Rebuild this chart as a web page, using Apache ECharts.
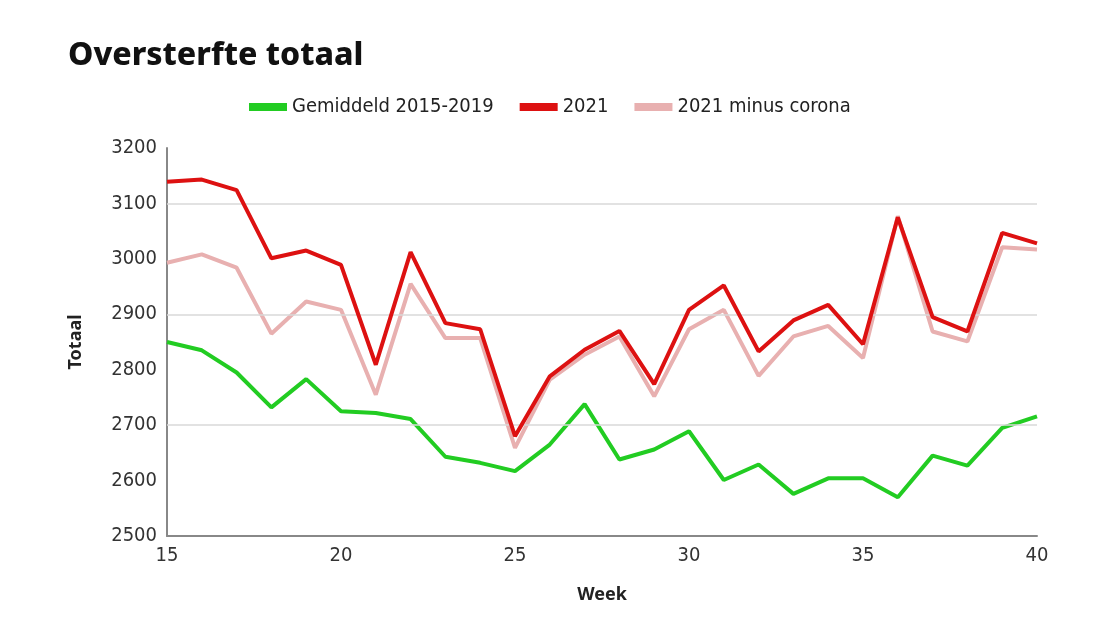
<!DOCTYPE html>
<html>
<head>
<meta charset="utf-8">
<script src="https://cdn.jsdelivr.net/npm/echarts@6/dist/echarts.min.js"></script>
<style>html,body{margin:0;padding:0;background:#fff}#c{width:1104px;height:620px}</style>
</head>
<body>
<div id="c"></div>
<script>
const weeks = [15,16,17,18,19,20,21,22,23,24,25,26,27,28,29,30,31,32,33,34,35,36,37,38,39,40];
const gemiddeld = [2850,2835,2795,2732,2783,2725,2722,2711,2643,2632,2617,2665,2738,2638,2656,2689,2601,2629,2576,2604,2604,2570,2645,2627,2695,2716];
const y2021 = [3139,3143,3124,3001,3015,2989,2809,3012,2884,2873,2680,2788,2836,2870,2774,2908,2952,2833,2889,2917,2846,3075,2895,2869,3047,3028];
const minusCorona = [2993,3008,2984,2865,2923,2908,2755,2955,2857,2857,2659,2782,2827,2860,2752,2873,2908,2789,2860,2879,2821,3077,2869,2851,3021,3017];
const gridValues = [2700, 2900, 3100];

const pair = arr => arr.map((v,i)=>[weeks[i], v]);
const chart = echarts.init(document.getElementById('c'));
const narrow = 'DejaVu Sans Condensed, Liberation Sans Narrow, Open Sans, sans-serif';
const tickFont = {fontFamily:narrow, fontSize:20, color:'#333'};
chart.setOption({
  animation:false,
  title:{text:'Oversterfte totaal', left:63, top:35, textStyle:{fontFamily:'Noto Sans', fontWeight:800, fontSize:32, color:'#111'}},
  legend:{left:244, top:92, itemWidth:38, itemHeight:8, itemGap:26, icon:'rect',
    textStyle:{fontFamily:narrow, fontSize:20, color:'#222'},
    data:['Gemiddeld 2015-2019','2021','2021 minus corona']},
  grid:{left:167, right:67, top:148, bottom:84},
  xAxis:{type:'value', min:15, max:40, interval:5,
    name:'Week', nameLocation:'middle', nameGap:50,
    nameTextStyle:{fontFamily:'Noto Sans', fontWeight:'bold', fontSize:18, color:'#222'},
    axisLine:{lineStyle:{color:'#888', width:2}}, axisTick:{show:false}, splitLine:{show:false},
    axisLabel:Object.assign({margin:10, formatter:v=>String(v)}, tickFont)},
  yAxis:{type:'value', min:2500, max:3200, interval:100,
    name:'Totaal', nameLocation:'middle', nameGap:82, nameRotate:90,
    nameTextStyle:{fontFamily:'Noto Sans', fontWeight:'bold', fontSize:18, color:'#222'},
    axisLine:{show:true, lineStyle:{color:'#888', width:2}}, axisTick:{show:false}, splitLine:{show:false},
    axisLabel:Object.assign({margin:10, formatter:v=>String(v)}, tickFont)},
  series:[
    {name:'Gemiddeld 2015-2019', type:'line', data:pair(gemiddeld), symbol:'none', z:3,
     lineStyle:{color:'#22cc22', width:4}, itemStyle:{color:'#22cc22'},
     markLine:{silent:true, symbol:'none', label:{show:false}, lineStyle:{color:'#d9d9d9', width:1.5, type:'solid'},
       data:gridValues.map(v=>({yAxis:v}))}},
    {name:'2021', type:'line', data:pair(y2021), symbol:'none', z:5,
     lineStyle:{color:'#dd1111', width:4}, itemStyle:{color:'#dd1111'}},
    {name:'2021 minus corona', type:'line', data:pair(minusCorona), symbol:'none', z:4,
     lineStyle:{color:'#e8b0b0', width:4}, itemStyle:{color:'#e8b0b0'}}
  ]
});
</script>
</body>
</html>
